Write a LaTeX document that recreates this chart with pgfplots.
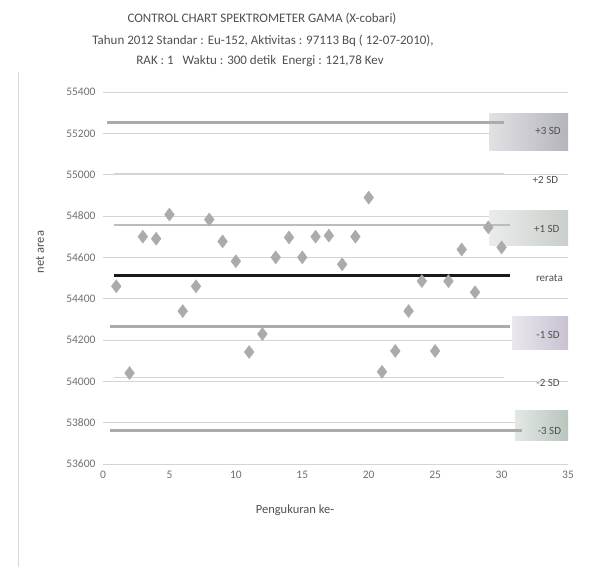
\documentclass[border=0pt]{standalone}
\usepackage{pgfplots}
\pgfplotsset{compat=1.18}
\usepackage{fontspec}
\setmainfont{Carlito}
\definecolor{gridc}{HTML}{D4D4D4}
\definecolor{txt}{HTML}{505050}
\definecolor{tick}{HTML}{707070}
\definecolor{mk}{HTML}{ABABAB}
\definecolor{sdl}{HTML}{ABABAB}
\definecolor{boxa}{HTML}{B4B4BC}
\definecolor{boxb}{HTML}{CACFCB}
\definecolor{boxc}{HTML}{C9C1D2}
\definecolor{boxd}{HTML}{B9C5BD}
\pgfplotstableread{
x y
1 54460
2 54040
3 54700
4 54690
5 54807
6 54340
7 54460
8 54783
9 54677
10 54581
11 54142
12 54229
13 54600
14 54696
15 54600
16 54700
17 54705
18 54566
19 54700
20 54889
21 54046
22 54147
23 54340
24 54485
25 54147
26 54485
27 54638
28 54431
29 54745
30 54648
}\datatab
\begin{document}
\begin{tikzpicture}
\useasboundingbox (0pt,0pt) rectangle (594pt,567pt);
\fill[white] (0pt,0pt) rectangle (594pt,567pt);
\draw[gray!30, line width=1pt] (18pt,0pt) -- (18pt,495pt);
\node[text=txt, font=\fontsize{13}{15}\selectfont] at (262pt,548pt) {CONTROL CHART SPEKTROMETER GAMA (X-cobari)};
\node[text=txt, font=\fontsize{13}{15}\selectfont] at (263pt,526pt) {Tahun 2012 Standar : Eu-152, Aktivitas : 97113 Bq ( 12-07-2010),};
\node[text=txt, font=\fontsize{13}{15}\selectfont] at (260pt,506pt) {RAK : 1 \ \ Waktu : 300 detik \ Energi : 121,78 Kev};
\node[text=txt, rotate=90, font=\fontsize{12.5}{14}\selectfont] at (40pt,315pt) {net area};
\node[text=txt, font=\fontsize{12.5}{14}\selectfont] at (295pt,57pt) {Pengukuran ke-};
\begin{axis}[
  at={(103pt,103pt)}, anchor=south west, scale only axis,
  width=465pt, height=372pt,
  xmin=0, xmax=35, ymin=53600, ymax=55400,
  xtick={0,5,...,35}, ytick={53600,53800,...,55400},
  scaled y ticks=false,
  ymajorgrids, grid style={gridc, line width=0.7pt},
  axis line style={draw=none}, major tick length=0pt,
  clip=false,
  /pgf/number format/assume math mode=true,
  /pgf/number format/set thousands separator={},
  yticklabel style={text=tick, font=\fontsize{11.5}{13}\selectfont, xshift=-4pt},
  xticklabel style={text=tick, font=\fontsize{11.5}{13}\selectfont, yshift=-4pt},
]
% label boxes
\fill[left color=boxa!40, right color=boxa] (axis cs:29.1,55119) rectangle (axis cs:35,55298);
\fill[left color=boxb!40, right color=boxb] (axis cs:29.1,54655) rectangle (axis cs:35,54829);
\fill[left color=boxc!40, right color=boxc] (axis cs:30.8,54152) rectangle (axis cs:35,54316);
\fill[left color=boxd!40, right color=boxd] (axis cs:31.0,53716) rectangle (axis cs:35,53861);
% control lines
\addplot[sdl, line width=3pt, no marks] coordinates {(0.3,55251) (30.2,55251)};
\addplot[gridc, line width=1pt, no marks] coordinates {(0.8,55004) (30.2,55004)};
\addplot[sdl!80, line width=2pt, no marks] coordinates {(0.8,54757) (30.6,54757)};
\addplot[black!90, line width=3pt, no marks] coordinates {(0.8,54512) (30.6,54512)};
\addplot[sdl, line width=3pt, no marks] coordinates {(0.5,54265) (30.6,54265)};
\addplot[gridc, line width=1pt, no marks] coordinates {(0.8,54018) (30.2,54018)};
\addplot[sdl, line width=3pt, no marks] coordinates {(0.5,53762) (31.5,53762)};
% measurements
\addplot[mk, only marks, mark=diamond*, mark size=6.5pt, mark options={fill=mk, draw=mk}] table[x=x, y=y] {\datatab};
% right labels
\node[text=txt, font=\fontsize{11}{13}\selectfont] at (axis cs:33.5,55211) {+3 SD};
\node[text=txt, font=\fontsize{11}{13}\selectfont] at (axis cs:33.3,54974) {+2 SD};
\node[text=txt, font=\fontsize{11}{13}\selectfont] at (axis cs:33.4,54737) {+1 SD};
\node[text=txt, font=\fontsize{11}{13}\selectfont] at (axis cs:33.6,54500) {rerata};
\node[text=txt, font=\fontsize{11}{13}\selectfont] at (axis cs:33.5,54224) {-1 SD};
\node[text=txt, font=\fontsize{11}{13}\selectfont] at (axis cs:33.5,53992) {-2 SD};
\node[text=txt, font=\fontsize{11}{13}\selectfont] at (axis cs:33.6,53760) {-3 SD};
\end{axis}
\end{tikzpicture}
\end{document}
